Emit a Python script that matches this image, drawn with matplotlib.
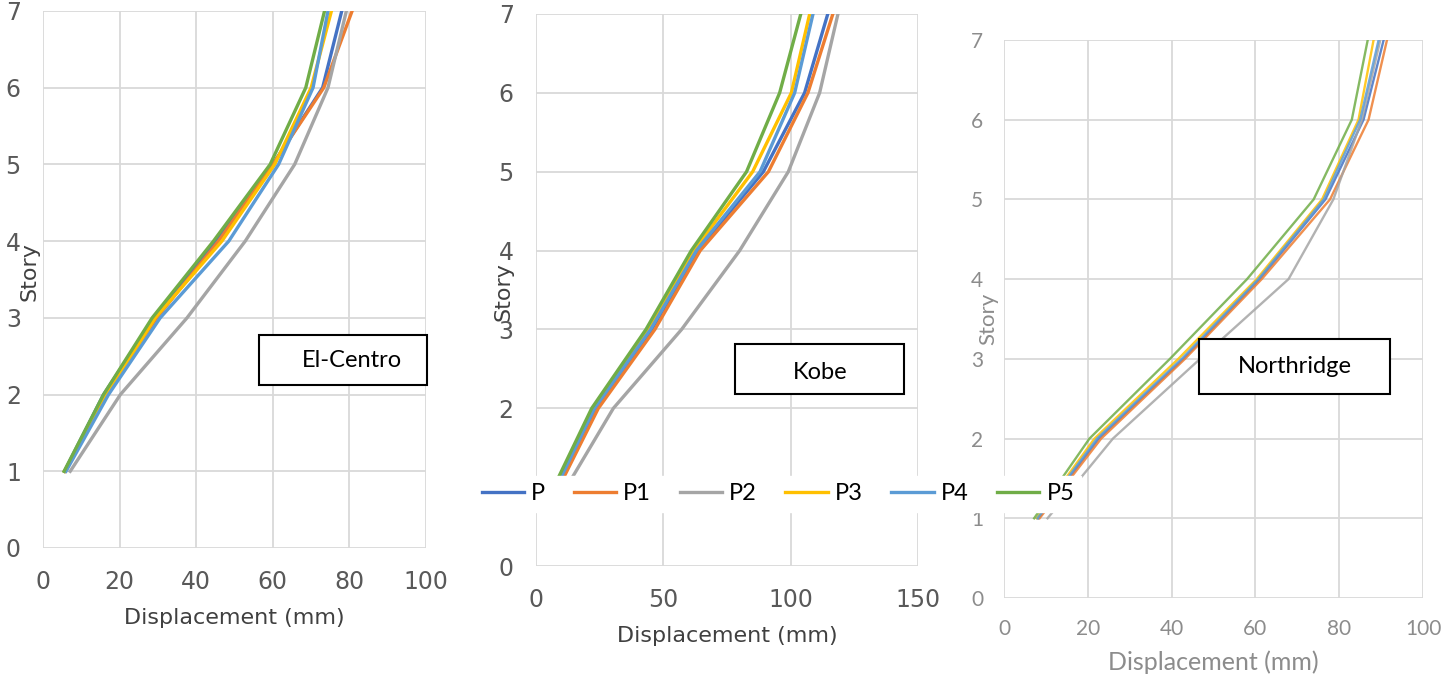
import numpy as np
import matplotlib.pyplot as plt
from matplotlib.patches import Rectangle

# story levels
story = [1, 2, 3, 4, 5, 6, 7]
names = ['P', 'P1', 'P2', 'P3', 'P4', 'P5']
colors = ['#4472C4', '#ED7D31', '#A5A5A5', '#FFC000', '#5B9BD5', '#70AD47']

# El-Centro displacement (mm)
ec_P  = [5.6, 15.8, 29.0, 45.0, 60.0, 73.0, 78.0]
ec_P1 = [5.8, 16.2, 29.7, 45.8, 60.0, 73.3, 80.7]
ec_P2 = [7.1, 20.2, 37.6, 52.8, 65.7, 74.4, 79.2]
ec_P3 = [5.6, 16.7, 29.3, 46.7, 60.5, 70.0, 75.3]
ec_P4 = [6.0, 17.1, 30.6, 48.5, 61.5, 70.5, 74.4]
ec_P5 = [5.5, 15.8, 28.5, 44.5, 59.3, 68.6, 73.5]

# Kobe
kb_P  = [8.5, 23.2, 45.4, 63.5, 89.3, 105.5, 114.6]
kb_P1 = [9.0, 24.5, 46.7, 64.5, 91.3, 106.8, 116.6]
kb_P2 = [12.0, 30.4, 57.2, 80.0, 99.1, 111.4, 118.6]
kb_P3 = [7.5, 22.3, 44.0, 62.0, 85.1, 100.3, 107.5]
kb_P4 = [8.0, 23.0, 45.0, 63.0, 88.0, 101.6, 108.8]
kb_P5 = [7.0, 21.9, 43.2, 61.0, 82.7, 95.7, 104.0]

# Northridge
nr_P  = [8.2, 22.6, 42.8, 61.0, 76.7, 85.8, 90.6]
nr_P1 = [8.5, 23.2, 43.2, 61.5, 77.8, 87.0, 91.4]
nr_P2 = [10.4, 26.0, 46.8, 67.9, 78.6, 85.4, 89.8]
nr_P3 = [7.8, 21.6, 41.6, 60.3, 75.9, 84.6, 88.2]
nr_P4 = [8.0, 22.2, 42.4, 60.7, 76.3, 85.0, 89.4]
nr_P5 = [7.2, 20.4, 39.6, 58.0, 73.9, 83.0, 86.8]

fig = plt.figure(figsize=(14.54, 6.86), dpi=100)

def setup(ax, xmax, xstep, tcol, tfont, tsize, pad):
    ax.set_xlim(0, xmax)
    ax.set_ylim(0, 7)
    ax.set_xticks(np.arange(0, xmax + 1, xstep))
    ax.set_yticks(range(0, 8))
    ax.grid(True, color='#D9D9D9', linewidth=1.3)
    ax.set_axisbelow(True)
    for s in ax.spines.values():
        s.set_visible(False)
    ax.tick_params(length=0, pad=pad, labelcolor=tcol, labelsize=tsize)
    for lab in ax.get_xticklabels() + ax.get_yticklabels():
        lab.set_family(tfont)

def label_box(ax, txt, x0, x1, y0, y1, tx, ty):
    ax.add_patch(Rectangle((x0, y0), x1 - x0, y1 - y0, transform=ax.transAxes,
                           facecolor='white', edgecolor='black', linewidth=1.5,
                           clip_on=False, zorder=5))
    ax.text(tx, ty, txt, transform=ax.transAxes, family='Lato', fontsize=17,
            ha='center', va='center', zorder=6)

# El-Centro
ax1 = fig.add_axes([0.0296, 0.2012, 0.2634, 0.7828])
for d, n, c in zip([ec_P, ec_P1, ec_P2, ec_P3, ec_P4, ec_P5], names, colors):
    ax1.plot(d, story, color=c, linewidth=2.4, label=n)
setup(ax1, 100, 20, '#595959', 'DejaVu Sans', 17, 16)
ax1.set_xlabel('Displacement (mm)', fontsize=16, color='#404040', labelpad=10)
ax1.text(-0.035, 0.514, 'Story', rotation=90, transform=ax1.transAxes,
         fontsize=16, color='#404040', ha='center', va='center')
label_box(ax1, 'El-Centro', 0.564, 1.003, 0.3035, 0.3966, 0.807, 0.35)

# Kobe
ax2 = fig.add_axes([0.3686, 0.1749, 0.2627, 0.8047])
lines = []
for d, n, c in zip([kb_P, kb_P1, kb_P2, kb_P3, kb_P4, kb_P5], names, colors):
    l, = ax2.plot(d, story, color=c, linewidth=2.4, label=n)
    lines.append(l)
setup(ax2, 150, 50, '#595959', 'DejaVu Sans', 17, 16)
ax2.set_xlabel('Displacement (mm)', fontsize=16, color='#404040', labelpad=10)
ax2.text(-0.085, 0.497, 'Story', rotation=90, transform=ax2.transAxes,
         fontsize=16, color='#404040', ha='center', va='center')
label_box(ax2, 'Kobe', 0.521, 0.963, 0.3116, 0.402, 0.743, 0.351)

# Northridge
ax3 = fig.add_axes([0.6905, 0.1283, 0.2882, 0.8134])
for d, n, c in zip([nr_P, nr_P1, nr_P2, nr_P3, nr_P4, nr_P5], names, colors):
    ax3.plot(d, story, color=c, linewidth=1.7, alpha=0.85, label=n)
setup(ax3, 100, 20, '#8C8C8C', 'Lato', 15, 15)
ax3.set_xlabel('Displacement (mm)', fontsize=18, color='#8C8C8C',
               family='Lato', labelpad=8)
ax3.text(-0.038, 0.50, 'Story', rotation=90, transform=ax3.transAxes,
         fontsize=16, color='#8C8C8C', family='Lato', ha='center', va='center')
label_box(ax3, 'Northridge', 0.465, 0.921, 0.3656, 0.464, 0.695, 0.414)

leg = fig.legend(handles=lines, loc='center', bbox_to_anchor=(778 / 1454, 1 - 494 / 686),
                 ncol=6, frameon=True, fancybox=False, framealpha=1,
                 edgecolor='white', facecolor='white', prop={'family': 'Lato', 'size': 17},
                 handlelength=1.8, handletextpad=0.3, columnspacing=1.2,
                 borderpad=0.3)
leg.set_zorder(10)

fig.savefig('out.png', dpi=100)
